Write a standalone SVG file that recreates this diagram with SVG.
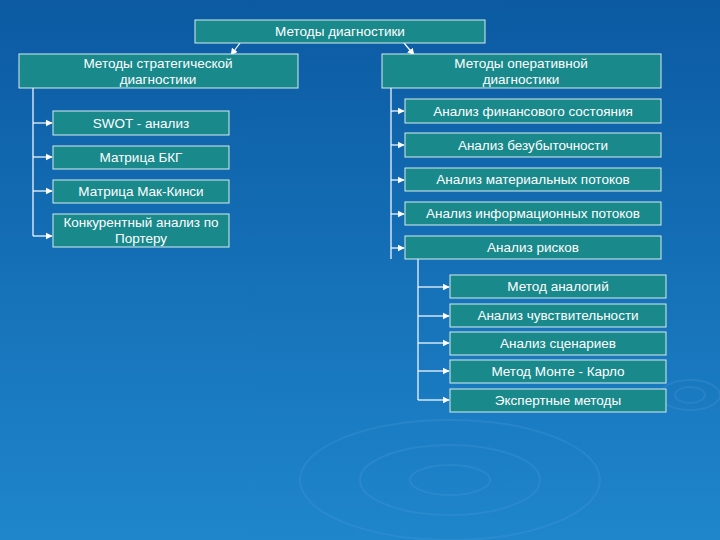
<svg xmlns="http://www.w3.org/2000/svg" width="720" height="540" viewBox="0 0 720 540">
<defs>
<linearGradient id="bg" x1="0" y1="0" x2="0" y2="1"><stop offset="0" stop-color="#0b5aa2"/><stop offset="1" stop-color="#1f86cc"/></linearGradient>
<marker id="a" viewBox="0 0 10 10" refX="9" refY="5" markerWidth="6" markerHeight="6" orient="auto"><path d="M0,0L10,5L0,10z" fill="#fff"/></marker>
</defs>
<style>
.b{fill:#19898c;stroke:#d8ecec;stroke-width:1}
.t{font-family:"Liberation Sans",Arial,sans-serif;font-size:13.5px;font-weight:normal;fill:#fff;text-anchor:middle}
.c{stroke:#fff;stroke-width:1.2;fill:none}
.r{fill:none;stroke:#5aa6dc;stroke-opacity:0.2;stroke-width:2}
</style>
<rect width="720" height="540" fill="url(#bg)"/>
<g>
<ellipse class="r" cx="690" cy="395" rx="15" ry="8"/><ellipse class="r" cx="690" cy="395" rx="30" ry="15"/>
<ellipse class="r" cx="450" cy="480" rx="40" ry="15"/><ellipse class="r" cx="450" cy="480" rx="90" ry="35"/><ellipse class="r" cx="450" cy="480" rx="150" ry="60"/>
</g>
<g id="connectors">
<path class="c" d="M240,43L231,55" marker-end="url(#a)"/>
<path class="c" d="M404,43L414,55" marker-end="url(#a)"/>
<path class="c" d="M33,88V236"/>
<path class="c" d="M33,123H52" marker-end="url(#a)"/><path class="c" d="M33,157H52" marker-end="url(#a)"/><path class="c" d="M33,191H52" marker-end="url(#a)"/><path class="c" d="M33,236H52" marker-end="url(#a)"/>
<path class="c" d="M391,88V259"/>
<path class="c" d="M391,111H404" marker-end="url(#a)"/><path class="c" d="M391,145H404" marker-end="url(#a)"/><path class="c" d="M391,180H404" marker-end="url(#a)"/><path class="c" d="M391,214H404" marker-end="url(#a)"/><path class="c" d="M391,248H404" marker-end="url(#a)"/>
<path class="c" d="M418,259V400"/>
<path class="c" d="M418,287H449" marker-end="url(#a)"/><path class="c" d="M418,316H449" marker-end="url(#a)"/><path class="c" d="M418,343H449" marker-end="url(#a)"/><path class="c" d="M418,371H449" marker-end="url(#a)"/><path class="c" d="M418,400H449" marker-end="url(#a)"/>
</g>
<g id="n0"><rect class="b" x="195" y="20" width="290" height="23"/><text class="t" x="340" y="36">Методы диагностики</text></g>
<g id="n1"><rect class="b" x="19" y="54" width="279" height="34"/><text class="t" x="158" y="68">Методы стратегической</text><text class="t" x="158" y="84">диагностики</text></g>
<g id="n2"><rect class="b" x="382" y="54" width="279" height="34"/><text class="t" x="521" y="68">Методы оперативной</text><text class="t" x="521" y="84">диагностики</text></g>
<g id="n3"><rect class="b" x="53" y="111" width="176" height="24"/><text class="t" x="141" y="128">SWOT - анализ</text></g>
<g id="n4"><rect class="b" x="53" y="146" width="176" height="23"/><text class="t" x="141" y="162">Матрица БКГ</text></g>
<g id="n5"><rect class="b" x="53" y="180" width="176" height="23"/><text class="t" x="141" y="196">Матрица Мак-Кинси</text></g>
<g id="n6"><rect class="b" x="53" y="214" width="176" height="33"/><text class="t" x="141" y="227">Конкурентный анализ по</text><text class="t" x="141" y="243">Портеру</text></g>
<g id="n7"><rect class="b" x="405" y="99" width="256" height="24"/><text class="t" x="533" y="116">Анализ финансового состояния</text></g>
<g id="n8"><rect class="b" x="405" y="133" width="256" height="24"/><text class="t" x="533" y="150">Анализ безубыточности</text></g>
<g id="n9"><rect class="b" x="405" y="168" width="256" height="23"/><text class="t" x="533" y="184">Анализ материальных потоков</text></g>
<g id="n10"><rect class="b" x="405" y="202" width="256" height="23"/><text class="t" x="533" y="218">Анализ информационных потоков</text></g>
<g id="n11"><rect class="b" x="405" y="236" width="256" height="23"/><text class="t" x="533" y="252">Анализ рисков</text></g>
<g id="n12"><rect class="b" x="450" y="275" width="216" height="23"/><text class="t" x="558" y="291">Метод аналогий</text></g>
<g id="n13"><rect class="b" x="450" y="304" width="216" height="23"/><text class="t" x="558" y="320">Анализ чувствительности</text></g>
<g id="n14"><rect class="b" x="450" y="332" width="216" height="23"/><text class="t" x="558" y="348">Анализ сценариев</text></g>
<g id="n15"><rect class="b" x="450" y="360" width="216" height="23"/><text class="t" x="558" y="376">Метод Монте - Карло</text></g>
<g id="n16"><rect class="b" x="450" y="389" width="216" height="23"/><text class="t" x="558" y="405">Экспертные методы</text></g>
</svg>
